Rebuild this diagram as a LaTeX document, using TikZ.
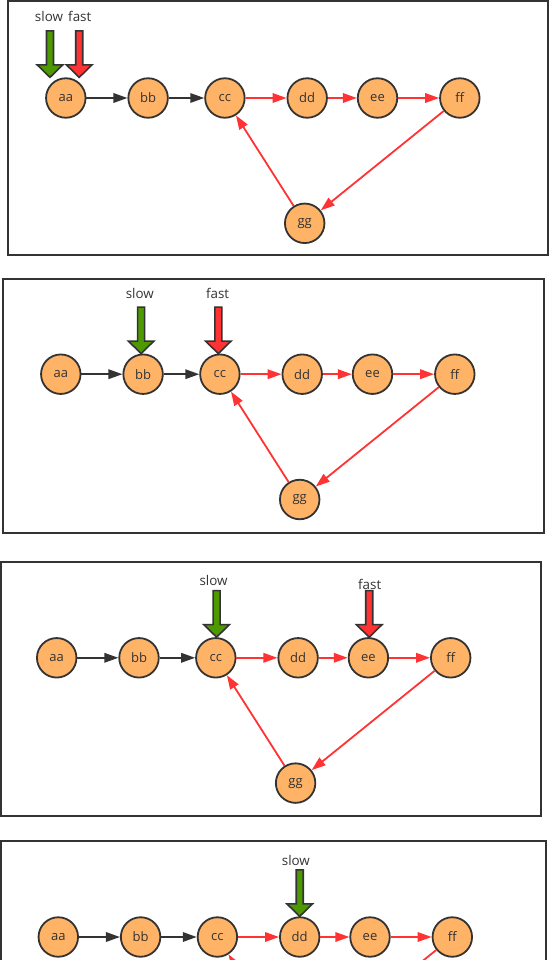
\documentclass[tikz,border=0pt]{standalone}
\usepackage{fontspec}
\setmainfont{Open Sans}
\usetikzlibrary{arrows.meta,positioning}
\definecolor{inkdark}{HTML}{333333}
\definecolor{vtxfill}{HTML}{FFB366}
\definecolor{slowgreen}{HTML}{4D9900}
\definecolor{fastred}{HTML}{FF3333}

\begin{document}
\begin{tikzpicture}[
  x=1pt, y=-1pt,
  font=\fontsize{13}{15}\selectfont, text=inkdark,
  vtx/.style   = {circle, draw=inkdark, line width=1.8pt, fill=vtxfill,
                  minimum size=39.5pt, inner sep=0pt},
  frame/.style = {draw=inkdark, line width=2pt},
  blk/.style   = {-{Triangle[length=14pt, width=9.5pt]}, draw=inkdark, line width=1.8pt},
  hot/.style   = {-{Triangle[length=14pt, width=9.5pt]}, draw=fastred, line width=1.8pt},
  tag/.style   = {inner sep=0pt, font=\fontsize{13.4}{15}\selectfont},
  pointer/.pic = {
    \draw[draw=inkdark, line width=1.6pt, line join=miter, fill=#1]
      (0,0) -- (12.8,-12.5) -- (3.5,-12.5) -- (3.5,-46.5) -- (-3.5,-46.5)
      -- (-3.5,-12.5) -- (-12.8,-12.5) -- cycle;
    \coordinate (-top) at (0,-46.5);
  },
]
\useasboundingbox (0,0) rectangle (550,960);
\clip (0,0) rectangle (550,960);

% --- four snapshots of the same list: frame, chain, loop back to cc ------------------------------
\foreach \p/\x/\y/\fl/\ft/\fr/\fb in {1/65.8/98/7.7/0.7/547.7/254.5,
                                       2/60.8/374.2/2.7/279/543.7/533,
                                       3/56.7/657.8/1/562/540.7/815.7,
                                       4/58.3/937/1/840.5/546/1100}{
  \draw[frame] (\fl,\ft) rectangle (\fr,\fb);
  \node[vtx] (aa\p) at (\x,\y) {aa};
  \node[vtx, right=41pt of aa\p]   (bb\p) {bb};
  \node[vtx, right=35.5pt of bb\p] (cc\p) {cc};
  \node[vtx, right=41pt of cc\p]   (dd\p) {dd};
  \node[vtx, right=29pt of dd\p]   (ee\p) {ee};
  \node[vtx, right=41pt of ee\p]   (ff\p) {ff};
  \node[vtx, below=84pt of dd\p, xshift=-2.5pt] (gg\p) {gg};
  \draw[blk] (aa\p) -- (bb\p);
  \draw[blk] (bb\p) -- (cc\p);
  \draw[hot] (cc\p) -- (dd\p);
  \draw[hot] (dd\p) -- (ee\p);
  \draw[hot] (ee\p) -- (ff\p);
  \draw[hot] (ff\p) -- (gg\p);
  \draw[hot] (gg\p) -- (cc\p);
}

% --- slow / fast pointers ------------------------------------------------------------------------
\pic (s1) at ([xshift=-15.8pt]aa1.north) {pointer=slowgreen};
\pic (f1) at ([xshift=13.4pt]aa1.north)  {pointer=fastred};
\node[tag, above=9.3pt of s1-top, xshift=-1pt]  (s1lbl) {slow};
\node[tag, above=9.3pt of f1-top, xshift=0.6pt] (f1lbl) {fast};

\pic (s2) at ([xshift=-2pt]bb2.north)   {pointer=slowgreen};
\pic (f2) at ([xshift=-1.6pt]cc2.north) {pointer=fastred};
\node[tag, above=8.4pt of s2-top, xshift=-1.3pt] (s2lbl) {slow};
\node[tag, above=8.4pt of f2-top, xshift=-0.7pt] (f2lbl) {fast};

\pic (s3) at ([xshift=0.8pt]cc3.north) {pointer=slowgreen};
\pic (f3) at ([xshift=0.8pt]ee3.north) {pointer=fastred};
\node[tag, above=5pt of s3-top, xshift=-3pt]     (s3lbl) {slow};
\node[tag, above=0.7pt of f3-top, xshift=0.5pt]  (f3lbl) {fast};

\pic (s4) at (dd4.north) {pointer=slowgreen};
\node[tag, above=4.3pt of s4-top, xshift=-3.8pt] (s4lbl) {slow};

\end{tikzpicture}
\end{document}
